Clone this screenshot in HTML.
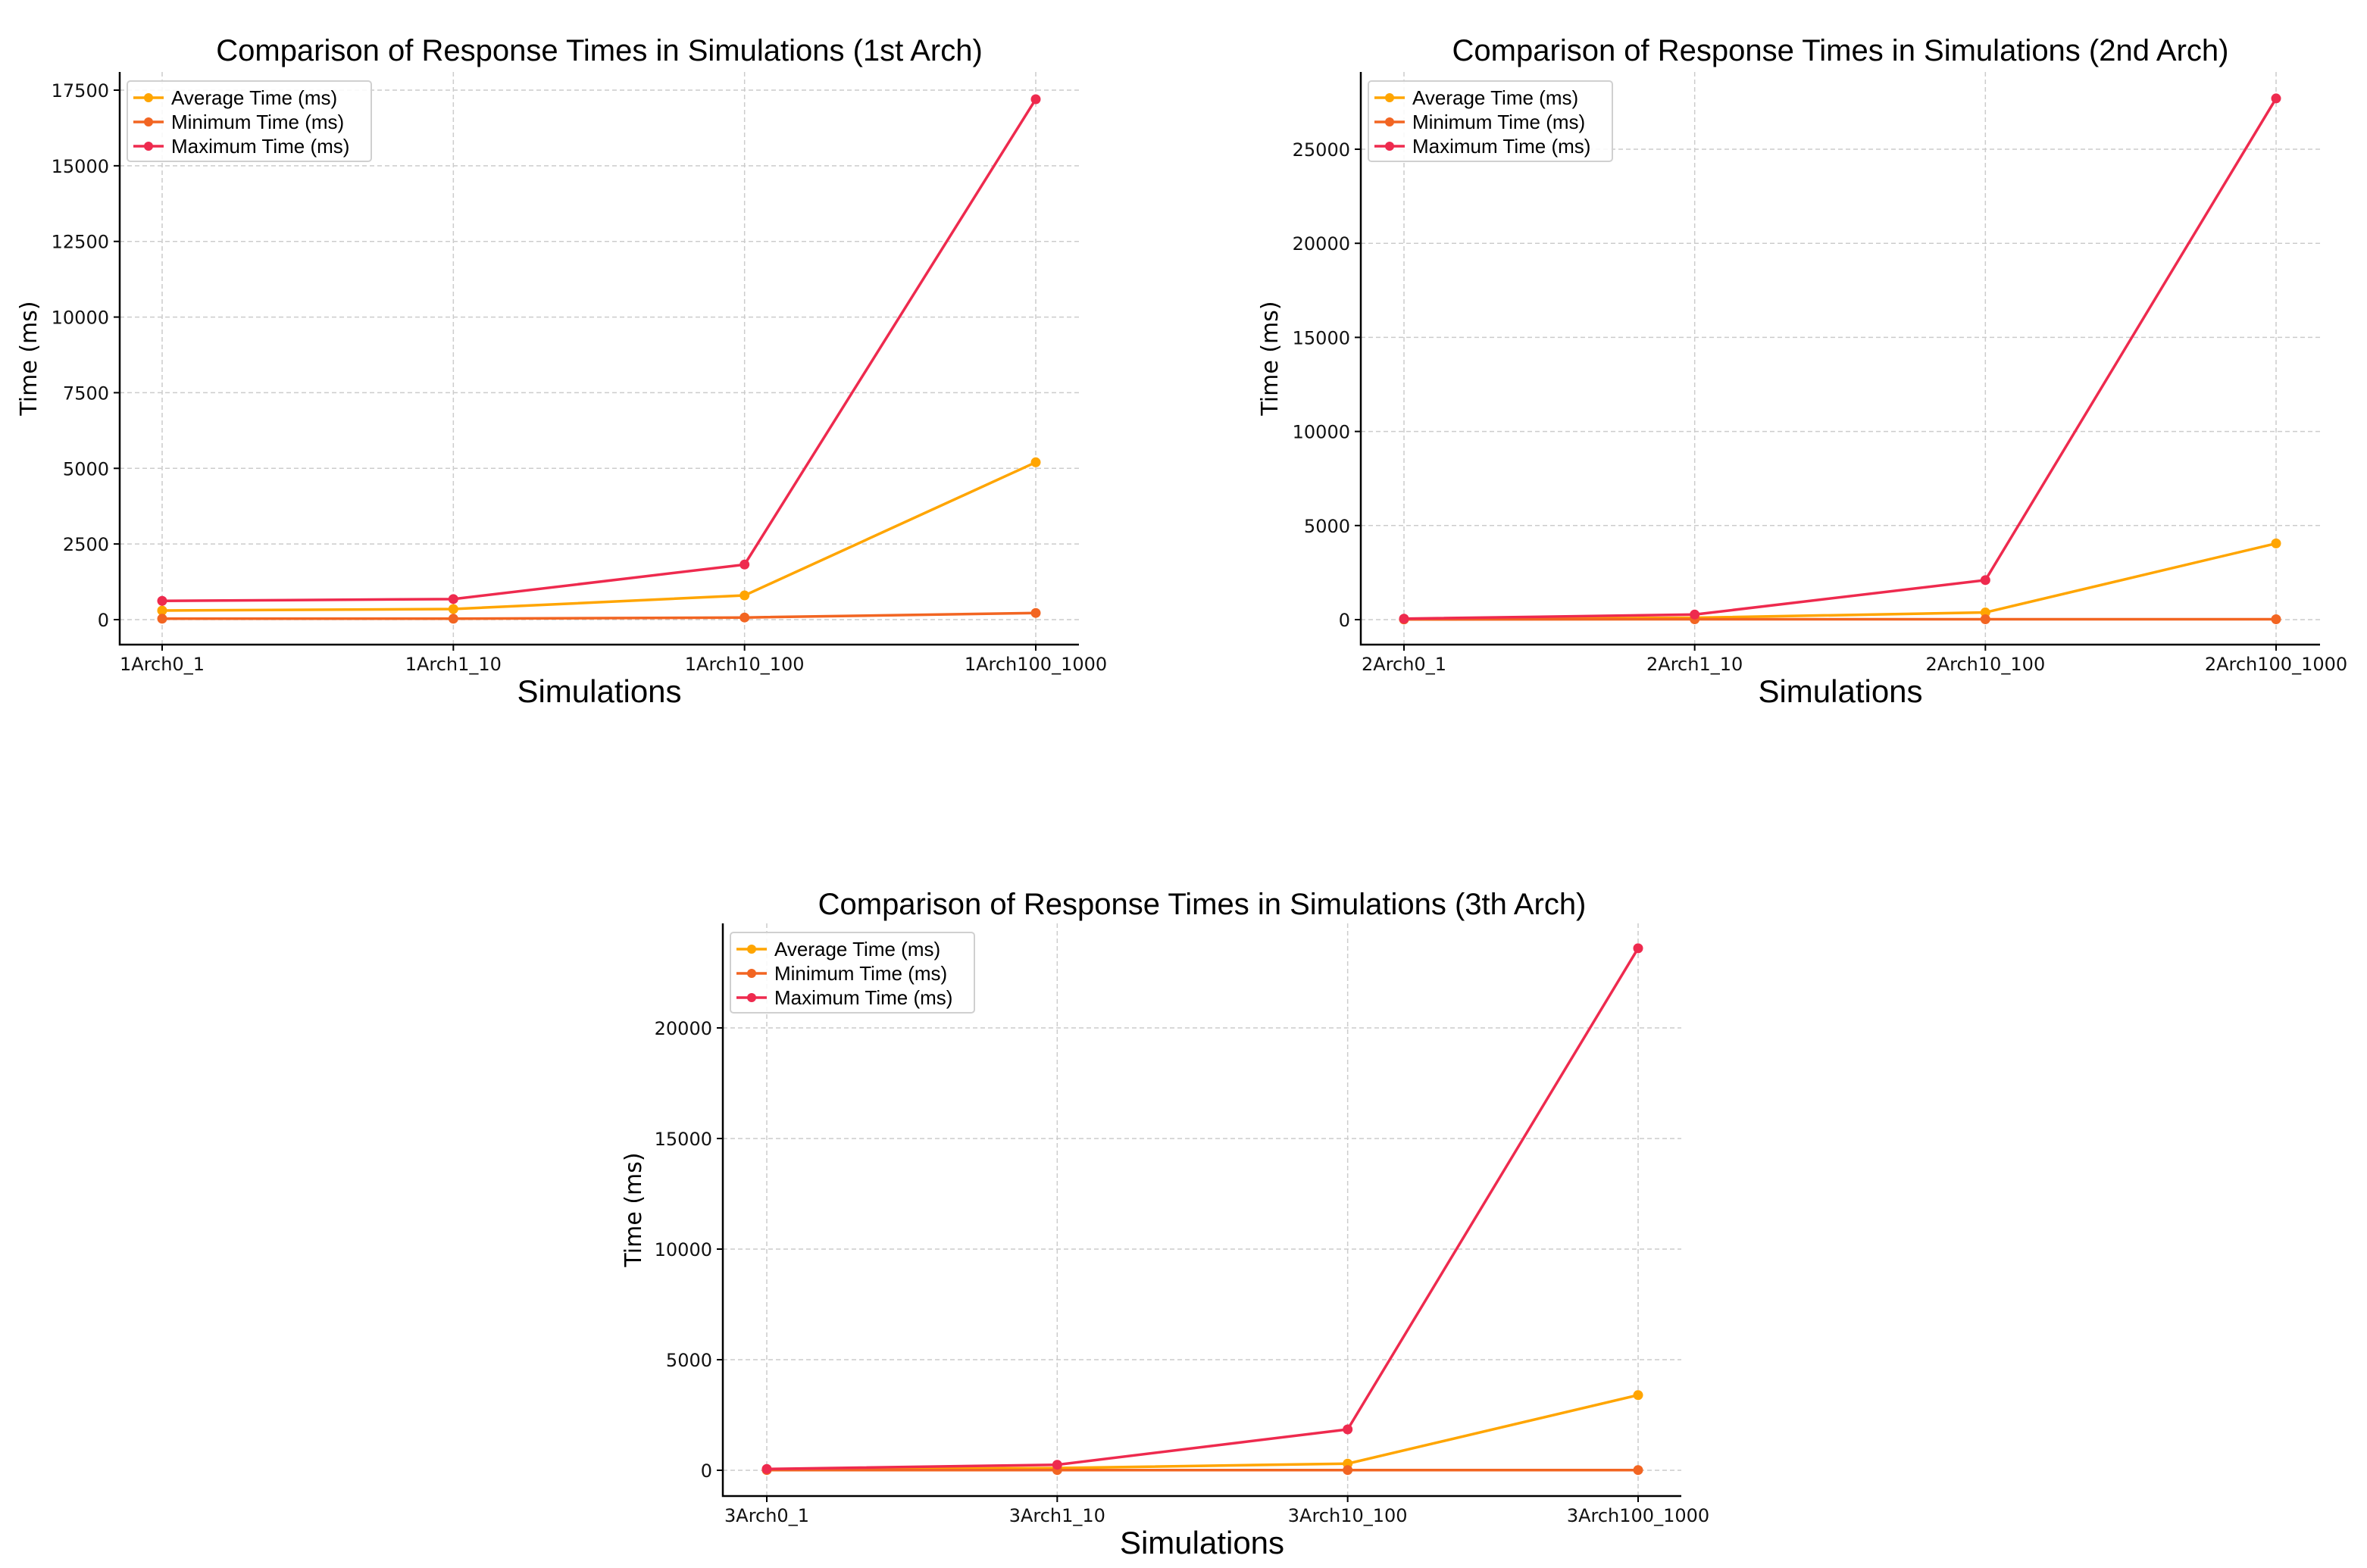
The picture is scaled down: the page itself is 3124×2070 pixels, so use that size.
<!DOCTYPE html>
<html><head><meta charset="utf-8"><style>
html,body{margin:0;padding:0;background:#fff}
svg{display:block;font-family:"Liberation Sans",sans-serif}
</style></head><body>
<svg id="fig" width="3124" height="2070" viewBox="0 0 3124 2070" xmlns="http://www.w3.org/2000/svg"></svg>
<script>
const cats1 = ["1Arch0_1","1Arch1_10","1Arch10_100","1Arch100_1000"];
const avg1 = [300, 350, 800, 5200];
const min1 = [30, 30, 70, 220];
const max1 = [620, 680, 1820, 17200];
const ticks1 = [0,2500,5000,7500,10000,12500,15000,17500];

const cats2 = ["2Arch0_1","2Arch1_10","2Arch10_100","2Arch100_1000"];
const avg2 = [30, 100, 380, 4050];
const min2 = [10, 20, 20, 20];
const max2 = [50, 270, 2100, 27700];
const ticks2 = [0,5000,10000,15000,20000,25000];

const cats3 = ["3Arch0_1","3Arch1_10","3Arch10_100","3Arch100_1000"];
const avg3 = [50, 100, 300, 3400];
const min3 = [10, 10, 10, 10];
const max3 = [60, 250, 1850, 23600];
const ticks3 = [0,5000,10000,15000,20000];

const NS="http://www.w3.org/2000/svg";
const svg=document.getElementById('fig');
function mk(tag,attrs,parent,text){const e=document.createElementNS(NS,tag);for(const k in attrs)e.setAttribute(k,attrs[k]);if(text!==undefined)e.textContent=text;(parent||svg).appendChild(e);return e;}

const COLORS={avg:"#FFA500",min:"#F26522",max:"#EE2A4E"};
const DV='"DejaVu Sans",sans-serif';

function chart(cfg){
  const g=mk('g',{});
  
  
  const {L,R,T,B,x0,x3,yv0,yp0,yv1,yp1}=cfg;
  const xs=i=>x0+(x3-x0)*i/(cfg.cats.length-1);
  const ys=v=>yp0+(yp1-yp0)*(v-yv0)/(yv1-yv0);
  cfg.cats.forEach((c,i)=>{const l=mk('line',{x1:xs(i),x2:xs(i),y1:T,y2:B,stroke:"#cccccc","stroke-width":1.5,"stroke-dasharray":"6,4"},g);
    });
  cfg.ticks.forEach(v=>{const l=mk('line',{x1:L,x2:R,y1:ys(v),y2:ys(v),stroke:"#cccccc","stroke-width":1.5,"stroke-dasharray":"6,4"},g);
    });
  const ax=mk('path',{d:`M${L},${T} L${L},${B} L${R},${B}`,fill:"none",stroke:"#000","stroke-width":2.5},g);
  
  cfg.cats.forEach((c,i)=>{mk('line',{x1:xs(i),x2:xs(i),y1:B,y2:B+8,stroke:"#000","stroke-width":2},g);
    const t=mk('text',{x:xs(i),y:B+34,"text-anchor":"middle","font-size":24,"font-family":DV,fill:"#111"},g,c);
    });
  cfg.ticks.forEach(v=>{mk('line',{x1:L-8,x2:L,y1:ys(v),y2:ys(v),stroke:"#000","stroke-width":2},g);
    const t=mk('text',{x:L-14,y:ys(v)+9,"text-anchor":"end","font-size":24,"font-family":DV,fill:"#111"},g,String(v));
    });
  const series=[["avg",cfg.avg],["min",cfg.min],["max",cfg.max]];
  series.forEach(([k,arr])=>{
    const p=mk('polyline',{points:arr.map((v,i)=>xs(i)+','+ys(v)).join(' '),fill:"none",stroke:COLORS[k],"stroke-width":3.5},g);
    
    arr.forEach((v,i)=>{const c=mk('circle',{cx:xs(i),cy:ys(v),r:6.5,fill:COLORS[k]},g);
      });
  });
  const tt=mk('text',{x:(L+R)/2,y:cfg.titleY,"text-anchor":"middle","font-size":40,fill:"#000"},g,cfg.title);
  
  const xl=mk('text',{x:(L+R)/2,y:B+76,"text-anchor":"middle","font-size":42,fill:"#000"},g,"Simulations");
  
  const yl=mk('text',{x:0,y:0,transform:`translate(${cfg.ylx},${(T+B)/2}) rotate(-90)`,"text-anchor":"middle","font-size":30,"font-family":DV,fill:"#000"},g,"Time (ms)");
  
  const lg=mk('g',{},g);
  const lx=L+10,ly=T+12;
  mk('rect',{x:lx,y:ly,width:322,height:106,rx:4,fill:"#fff","fill-opacity":0.85,stroke:"#d0d0d0","stroke-width":2},lg);
  const names=["Average Time (ms)","Minimum Time (ms)","Maximum Time (ms)"];
  ["avg","min","max"].forEach((k,i)=>{const yy=ly+22+i*32;
    const e=mk('g',{},lg);
    mk('line',{x1:lx+8,x2:lx+48,y1:yy,y2:yy,stroke:COLORS[k],"stroke-width":3.5},e);
    mk('circle',{cx:lx+28,cy:yy,r:6,fill:COLORS[k]},e);
    mk('text',{x:lx+58,y:yy+9,"font-size":26,fill:"#000"},e,names[i]);});
}
chart({name:'chart-1st-arch',title:"Comparison of Response Times in Simulations (1st Arch)",cats:cats1,avg:avg1,min:min1,max:max1,ticks:ticks1,
  L:158,R:1424,T:95,B:851,x0:214,x3:1367,yv0:0,yp0:818,yv1:17500,yp1:119,titleY:80,ylx:48});
chart({name:'chart-2nd-arch',title:"Comparison of Response Times in Simulations (2nd Arch)",cats:cats2,avg:avg2,min:min2,max:max2,ticks:ticks2,
  L:1796,R:3062,T:95,B:851,x0:1853,x3:3004,yv0:0,yp0:818,yv1:25000,yp1:197,titleY:80,ylx:1686});
chart({name:'chart-3th-arch',title:"Comparison of Response Times in Simulations (3th Arch)",cats:cats3,avg:avg3,min:min3,max:max3,ticks:ticks3,
  L:954,R:2219,T:1219,B:1975,x0:1012,x3:2162,yv0:0,yp0:1941,yv1:20000,yp1:1357,titleY:1207,ylx:846});
</script>
</body></html>
